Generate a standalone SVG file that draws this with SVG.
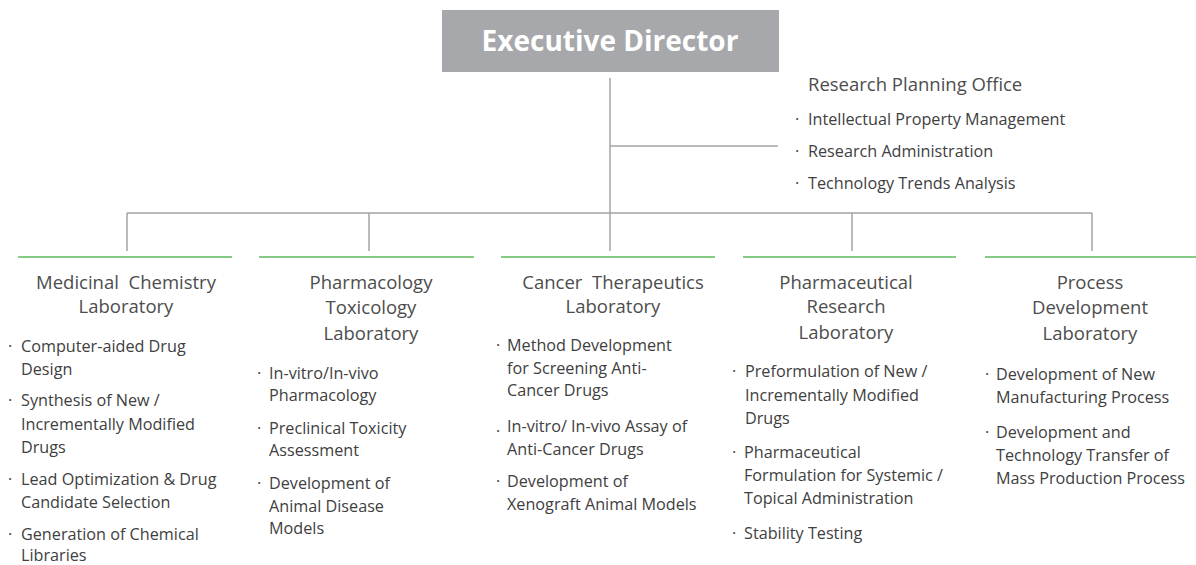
<svg xmlns="http://www.w3.org/2000/svg" width="1196" height="565" viewBox="0 0 1196 565">
<style>
.bg{fill:#ffffff}
.gray{stroke:#a3a3a3;stroke-width:1.5;fill:none}
.green{stroke:#5cb85c;stroke-width:1.5;fill:none}
.exec{fill:#a7a8ab}
.exectext{font-family:"Open Sans","Liberation Sans",sans-serif;font-weight:bold;font-size:28px;fill:#ffffff;text-anchor:middle}
.title{font-family:"Open Sans","Liberation Sans",sans-serif;font-size:18.5px;fill:#4d4d4d;text-anchor:middle}
.otitle{font-family:"Open Sans","Liberation Sans",sans-serif;font-size:18.5px;fill:#4d4d4d}
.item{font-family:"Open Sans","Liberation Sans",sans-serif;font-size:16.2px;fill:#404040}
</style>
<rect class="bg" x="0" y="0" width="1196" height="565"/>
<g id="connectors">
<line class="gray" x1="610" y1="78" x2="610" y2="213"/>
<line class="gray" x1="610" y1="146" x2="778" y2="146"/>
<line class="gray" x1="127" y1="213" x2="1092" y2="213"/>
<line class="gray" x1="127" y1="213" x2="127" y2="251"/>
<line class="gray" x1="369" y1="213" x2="369" y2="251"/>
<line class="gray" x1="610" y1="213" x2="610" y2="251"/>
<line class="gray" x1="852" y1="213" x2="852" y2="251"/>
<line class="gray" x1="1092" y1="213" x2="1092" y2="251"/>
</g>
<g id="executive-director">
<rect class="exec" x="442" y="10" width="337" height="62"/>
<text class="exectext" x="610" y="51">Executive Director</text>
</g>
<g id="research-planning-office">
<text class="otitle" x="808" y="91">Research Planning Office</text>
<text class="item" x="795" y="125">·</text>
<text class="item" x="808" y="125">Intellectual Property Management</text>
<text class="item" x="795" y="157">·</text>
<text class="item" x="808" y="157">Research Administration</text>
<text class="item" x="795" y="189">·</text>
<text class="item" x="808" y="189">Technology Trends Analysis</text>
</g>
<g id="medicinal-chemistry">
<line class="green" x1="18" y1="257" x2="232" y2="257"/>
<text class="title" x="126" y="289" xml:space="preserve">Medicinal  Chemistry</text>
<text class="title" x="126" y="313">Laboratory</text>
<text class="item" x="8" y="352">·</text>
<text class="item" x="21" y="352">Computer-aided Drug</text>
<text class="item" x="21" y="375">Design</text>
<text class="item" x="8" y="406">·</text>
<text class="item" x="21" y="406">Synthesis of New /</text>
<text class="item" x="21" y="430">Incrementally Modified</text>
<text class="item" x="21" y="453">Drugs</text>
<text class="item" x="8" y="485">·</text>
<text class="item" x="21" y="485">Lead Optimization &amp; Drug</text>
<text class="item" x="21" y="508">Candidate Selection</text>
<text class="item" x="8" y="540">·</text>
<text class="item" x="21" y="540">Generation of Chemical</text>
<text class="item" x="21" y="561">Libraries</text>
</g>
<g id="pharmacology-toxicology">
<line class="green" x1="259" y1="257" x2="474" y2="257"/>
<text class="title" x="371" y="289">Pharmacology</text>
<text class="title" x="371" y="314">Toxicology</text>
<text class="title" x="371" y="340">Laboratory</text>
<text class="item" x="257" y="379">·</text>
<text class="item" x="269" y="379">In-vitro/In-vivo</text>
<text class="item" x="269" y="401">Pharmacology</text>
<text class="item" x="257" y="434">·</text>
<text class="item" x="269" y="434">Preclinical Toxicity</text>
<text class="item" x="269" y="456">Assessment</text>
<text class="item" x="257" y="489">·</text>
<text class="item" x="269" y="489">Development of</text>
<text class="item" x="269" y="512">Animal Disease</text>
<text class="item" x="269" y="534">Models</text>
</g>
<g id="cancer-therapeutics">
<line class="green" x1="501" y1="257" x2="715" y2="257"/>
<text class="title" x="613" y="289" xml:space="preserve">Cancer  Therapeutics</text>
<text class="title" x="613" y="313">Laboratory</text>
<text class="item" x="496" y="351">·</text>
<text class="item" x="507" y="351">Method Development</text>
<text class="item" x="507" y="374">for Screening Anti-</text>
<text class="item" x="507" y="396">Cancer Drugs</text>
<text class="item" x="496" y="432">.</text>
<text class="item" x="507" y="432">In-vitro/ In-vivo Assay of</text>
<text class="item" x="507" y="455">Anti-Cancer Drugs</text>
<text class="item" x="496" y="487">·</text>
<text class="item" x="507" y="487">Development of</text>
<text class="item" x="507" y="510">Xenograft Animal Models</text>
</g>
<g id="pharmaceutical-research">
<line class="green" x1="743" y1="257" x2="956" y2="257"/>
<text class="title" x="846" y="289">Pharmaceutical</text>
<text class="title" x="846" y="313">Research</text>
<text class="title" x="846" y="339">Laboratory</text>
<text class="item" x="732" y="377">·</text>
<text class="item" x="745" y="377">Preformulation of New /</text>
<text class="item" x="745" y="401">Incrementally Modified</text>
<text class="item" x="745" y="424">Drugs</text>
<text class="item" x="732" y="458">·</text>
<text class="item" x="744" y="458">Pharmaceutical</text>
<text class="item" x="744" y="481">Formulation for Systemic /</text>
<text class="item" x="744" y="504">Topical Administration</text>
<text class="item" x="732" y="539">·</text>
<text class="item" x="744" y="539">Stability Testing</text>
</g>
<g id="process-development">
<line class="green" x1="985" y1="257" x2="1196" y2="257"/>
<text class="title" x="1090" y="289">Process</text>
<text class="title" x="1090" y="314">Development</text>
<text class="title" x="1090" y="340">Laboratory</text>
<text class="item" x="985" y="380">·</text>
<text class="item" x="996" y="380">Development of New</text>
<text class="item" x="996" y="403">Manufacturing Process</text>
<text class="item" x="985" y="438">·</text>
<text class="item" x="996" y="438">Development and</text>
<text class="item" x="996" y="461">Technology Transfer of</text>
<text class="item" x="996" y="484">Mass Production Process</text>
</g>
</svg>
